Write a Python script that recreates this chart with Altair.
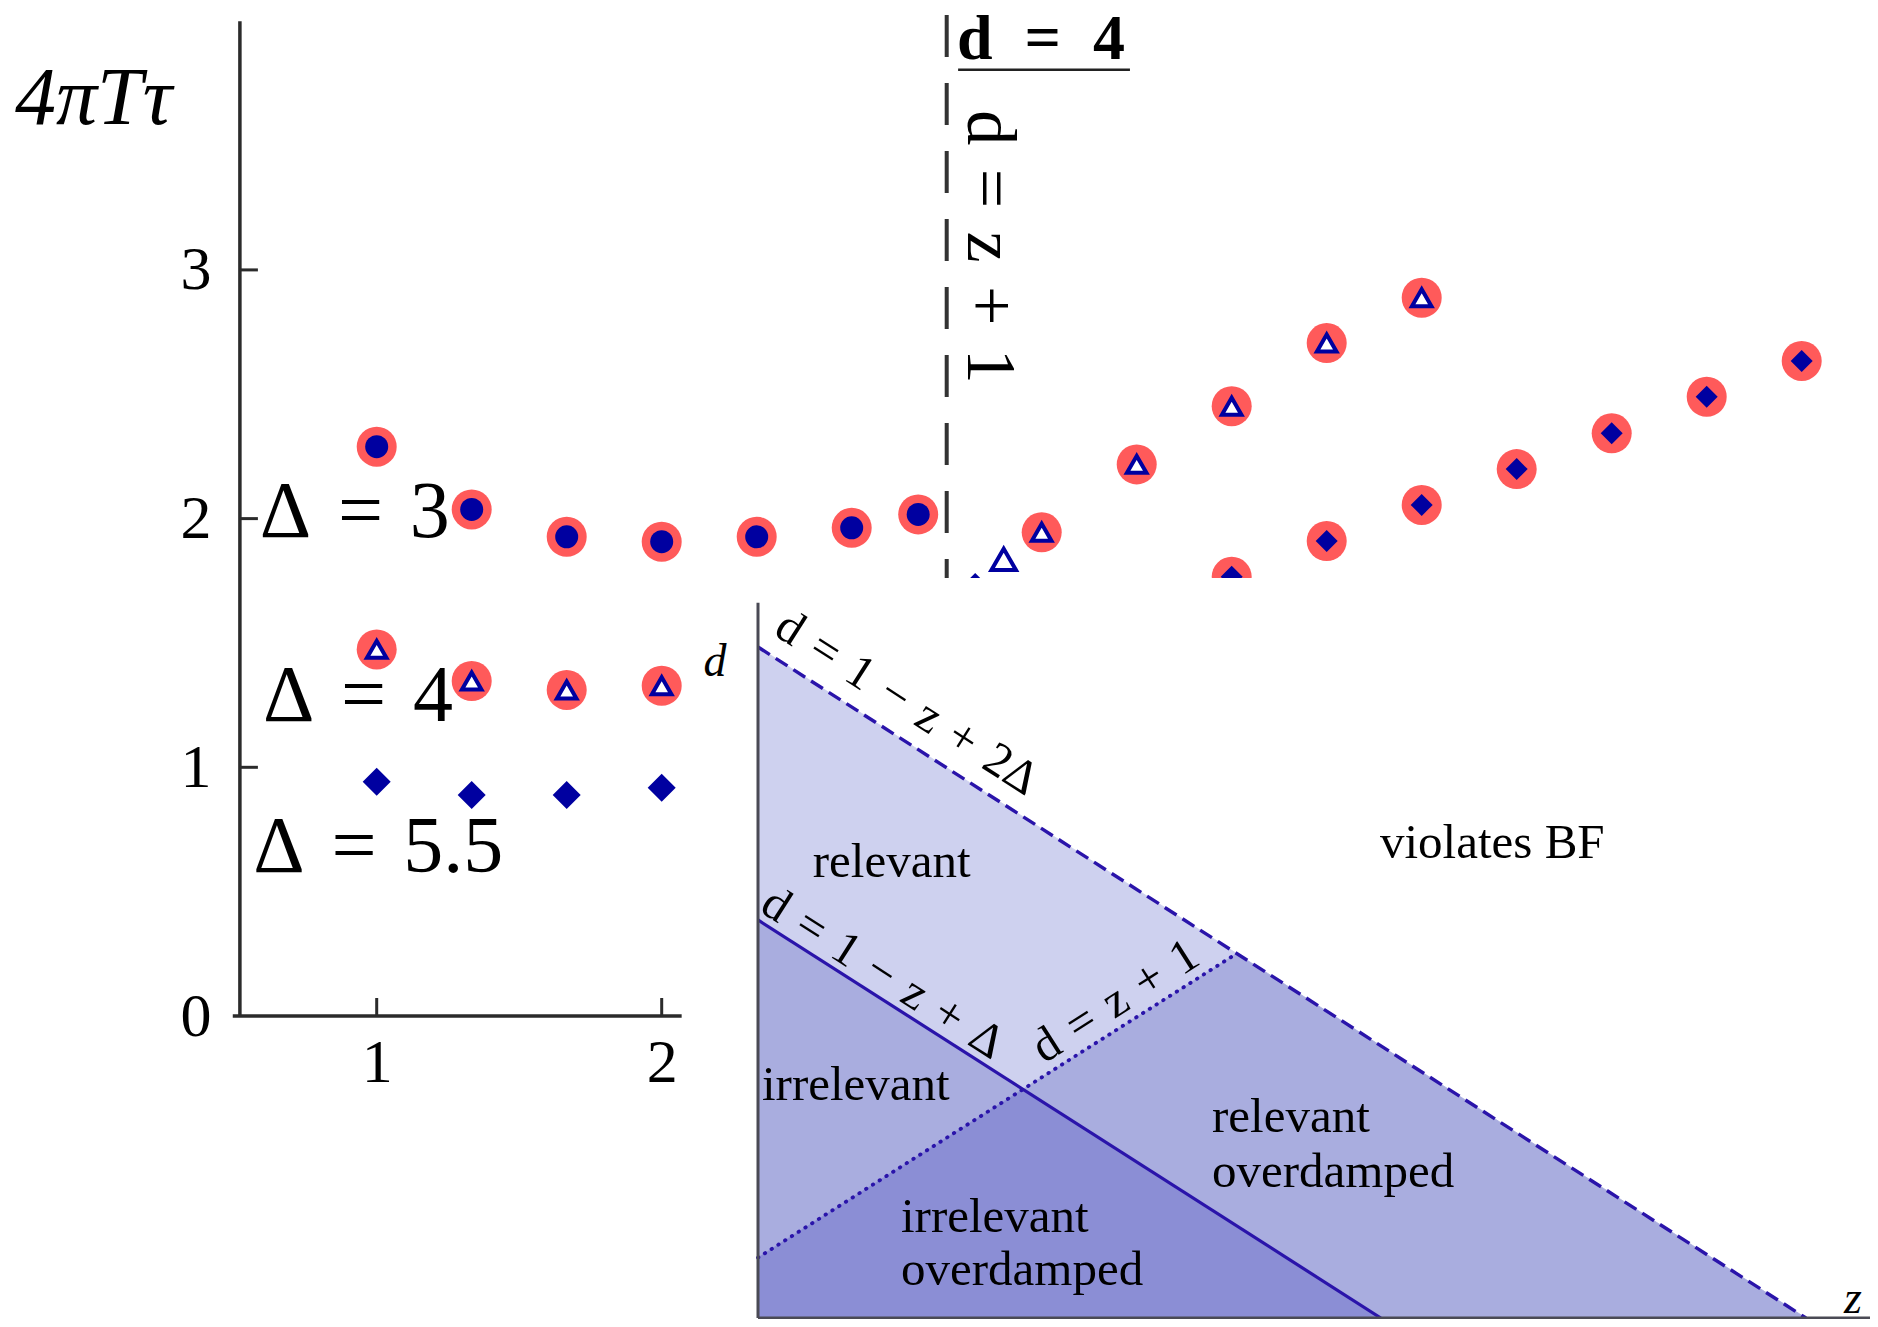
import altair as alt
import pandas as pd

FONT = "Liberation Serif"
BLUE = "#0000A0"
RING = "#FF5A5A"
AXC = "#2b2b2b"
LINEC = "#2A14AA"
LIGHT = "#CED1EF"
MED = "#A9ADDF"
DARK = "#8B8ED5"
W, H = 1862, 1311

# ---------------- main panel: z versus 4*pi*T*tau ----------------
D3_Z = [1, 4/3, 5/3, 2, 7/3, 8/3, 2.9]
D3_DELTA3 = [2.289, 2.037, 1.927, 1.907, 1.927, 1.963, 2.017]
D3_Z_SHORT = [1, 4/3, 5/3, 2]
D3_DELTA4 = [1.474, 1.347, 1.311, 1.328]
D3_DELTA55 = [0.942, 0.889, 0.889, 0.918]
D4_TRI_Z = [3.2, 10/3, 11/3, 4, 13/3, 14/3]
D4_TRI = [1.836, 1.945, 2.218, 2.452, 2.706, 2.888]
D4_TRI_RING = [False, True, True, True, True, True]
D4_DIA_Z = [3.1, 4, 13/3, 14/3, 5, 16/3, 17/3, 6]
D4_DIA = [1.731, 1.766, 1.910, 2.055, 2.199, 2.343, 2.490, 2.634]
D4_DIA_RING = [False, True, True, True, True, True, True, True]

X_TICKS = [1, 2]
Y_TICKS = [0, 1, 2, 3]
Y_TICKS_MARKED = [1, 2, 3]
Y_AXIS_AT = 0.52
X_AXIS_SPAN = [0.495, 2.07]
Y_AXIS_SPAN = [0.0, 4.0]
D_LINE_Z = 3
D_LINE_SPAN = [4.025, 0.0]

TITLE_TXT, TITLE_Z, TITLE_V = "4πTτ", -0.269, 3.587
DELTA_TXT = ["Δ\u2004=\u20043", "Δ\u2004=\u20044", "Δ\u2004=\u20045.5"]
DELTA_Z = [0.590, 0.601, 0.567]
DELTA_V = [1.926, 1.186, 0.580]
HEAD_TXT, HEAD_Z, HEAD_V = "d\u2002=\u20024", 3.036, 3.85
UNDER_Z = [3.04, 3.643]
UNDER_V = 3.805
DZ1_TXT, DZ1_Z, DZ1_V = "d\u2004=\u2004z\u2004+\u20041", 3.075, 3.092

# main scales (domains chosen so the axes sit where they do in the figure)
XS = alt.Scale(domain=[-0.29368, 6.23965], nice=False, zero=False)
YS = alt.Scale(domain=[-1.2183, 4.0531], nice=False, zero=False)
XAX = alt.Axis(values=X_TICKS, title=None, domain=False, ticks=False, tickSize=0,
               grid=False, labelFont=FONT, labelFontSize=62, labelColor="black",
               labelPadding=16, offset=-303, format="d")
YAX = alt.Axis(values=Y_TICKS, title=None, domain=False, ticks=False, tickSize=0,
               grid=False, labelFont=FONT, labelFontSize=62, labelColor="black",
               labelPadding=29, offset=-232, format="d")


def menc(chart, **kw):
    return chart.encode(x=alt.X("z:Q", scale=XS, axis=XAX),
                        y=alt.Y("v:Q", scale=YS, axis=YAX), **kw)


pts = pd.concat([
    pd.DataFrame({"z": D3_Z, "v": D3_DELTA3, "s": "circ", "ring": True}),
    pd.DataFrame({"z": D3_Z_SHORT, "v": D3_DELTA4, "s": "tri", "ring": True}),
    pd.DataFrame({"z": D3_Z_SHORT, "v": D3_DELTA55, "s": "dia", "ring": False}),
    pd.DataFrame({"z": D4_TRI_Z, "v": D4_TRI, "s": "tri", "ring": D4_TRI_RING}),
    pd.DataFrame({"z": D4_DIA_Z, "v": D4_DIA, "s": "dia4", "ring": D4_DIA_RING}),
], ignore_index=True)

layers = []
# axis lines
layers.append(menc(alt.Chart(pd.DataFrame({"z": [Y_AXIS_AT], "v": [Y_AXIS_SPAN[0]], "v2": [Y_AXIS_SPAN[1]]}))
                   .mark_rule(color=AXC, strokeWidth=3.5), y2="v2:Q"))
layers.append(menc(alt.Chart(pd.DataFrame({"z": [X_AXIS_SPAN[0]], "z2": [X_AXIS_SPAN[1]], "v": [0]}))
                   .mark_rule(color=AXC, strokeWidth=3.5), x2="z2:Q"))
# inward ticks
layers.append(menc(alt.Chart(pd.DataFrame({"z": [Y_AXIS_AT] * len(Y_TICKS_MARKED), "v": Y_TICKS_MARKED}))
                   .mark_rule(color=AXC, strokeWidth=3, x2Offset=18), x2="z:Q"))
layers.append(menc(alt.Chart(pd.DataFrame({"z": X_TICKS, "v": [0] * len(X_TICKS)}))
                   .mark_rule(color=AXC, strokeWidth=3, y2Offset=-18), y2="v:Q"))
# d = z + 1 vertical dashed line
layers.append(menc(alt.Chart(pd.DataFrame({"z": [D_LINE_Z], "v": [D_LINE_SPAN[0]], "v2": [D_LINE_SPAN[1]]}))
                   .mark_rule(color="#333333", strokeWidth=4, strokeDash=[42, 26]), y2="v2:Q"))
# red rings
layers.append(menc(alt.Chart(pts[pts["ring"]]).mark_point(shape="circle", filled=True, size=1600,
                                                           color=RING, opacity=1)))
# blue circles
layers.append(menc(alt.Chart(pts[pts["s"] == "circ"]).mark_point(shape="circle", filled=True, size=529,
                                                                  color=BLUE, opacity=1)))
# triangles
layers.append(menc(alt.Chart(pts[(pts["s"] == "tri") & pts["ring"]]).mark_point(
    shape="triangle-up", filled=True, fill="white", stroke=BLUE, strokeWidth=4, size=380, opacity=1)))
layers.append(menc(alt.Chart(pts[(pts["s"] == "tri") & ~pts["ring"]]).mark_point(
    shape="triangle-up", filled=True, fill="white", stroke=BLUE, strokeWidth=4, size=600, opacity=1)))
# diamonds
layers.append(menc(alt.Chart(pts[pts["s"] == "dia"]).mark_point(shape="diamond", filled=True, size=784,
                                                                 color=BLUE, opacity=1)))
layers.append(menc(alt.Chart(pts[(pts["s"] == "dia4") & pts["ring"]]).mark_point(
    shape="diamond", filled=True, size=484, color=BLUE, opacity=1)))
layers.append(menc(alt.Chart(pts[(pts["s"] == "dia4") & ~pts["ring"]]).mark_point(
    shape="diamond", filled=True, size=625, color=BLUE, opacity=1)))
# texts
layers.append(menc(alt.Chart(pd.DataFrame({"z": [TITLE_Z], "v": [TITLE_V], "t": [TITLE_TXT]}))
                   .mark_text(font=FONT, fontSize=82, fontStyle="italic", align="left",
                              baseline="alphabetic", color="black"), text="t:N"))
layers.append(menc(alt.Chart(pd.DataFrame({"z": DELTA_Z, "v": DELTA_V, "t": DELTA_TXT}))
                   .mark_text(font=FONT, fontSize=80, align="left", baseline="alphabetic",
                              color="black"), text="t:N"))
layers.append(menc(alt.Chart(pd.DataFrame({"z": [HEAD_Z], "v": [HEAD_V], "t": [HEAD_TXT]}))
                   .mark_text(font=FONT, fontSize=64, fontWeight="bold", align="left",
                              baseline="alphabetic", color="black"), text="t:N"))
layers.append(menc(alt.Chart(pd.DataFrame({"z": [UNDER_Z[0]], "z2": [UNDER_Z[1]], "v": [UNDER_V]}))
                   .mark_rule(color="#222222", strokeWidth=2.5), x2="z2:Q"))
layers.append(menc(alt.Chart(pd.DataFrame({"z": [DZ1_Z], "v": [DZ1_V], "t": [DZ1_TXT]}))
                   .mark_text(font=FONT, fontSize=70, angle=90, align="center",
                              baseline="alphabetic", color="black"), text="t:N"))

main = alt.layer(*layers)

# ---------------- inset: phase diagram in (z, d) ----------------
PANEL_Z = [-0.70, 11.12]
PANEL_D = [-0.0158, 11.69]
LIGHT_Z, LIGHT_HI, LIGHT_LO = [0, 2.65, 4.787], [10.6, 7.92, 5.758], [6.288, 3.613, 5.758]
IRR_Z, IRR_HI, IRR_LO = [0, 2.65], [6.288, 3.613], [0.954, 3.613]
DARK_Z, DARK_HI, DARK_LO = [0, 2.65, 6.228], [0.954, 3.613, 0], [0, 0, 0]
RELOD_Z, RELOD_HI, RELOD_LO = [2.65, 4.787, 6.228, 10.48], [3.613, 5.758, 4.300, 0], [3.613, 1.455, 0, 0]
DASHED_Z, DASHED_D = [0, 10.48], [10.6, 0]
SOLID_Z, SOLID_D = [0, 6.228], [6.288, 0]
DOTTED_Z, DOTTED_D = [0, 4.787], [0.954, 5.758]
VAXIS_D = [0, 11.3]
HAXIS_Z = [0, 11.12]

REGION_TXT = ["relevant", "irrelevant", "irrelevant", "overdamped", "relevant", "overdamped", "violates BF"]
REGION_Z = [0.547, 0.04, 1.43, 1.43, 4.54, 4.54, 6.22]
REGION_D = [6.97, 3.45, 1.36, 0.52, 2.94, 2.07, 7.27]
AXLAB_TXT, AXLAB_Z, AXLAB_D = ["d", "z"], [-0.43, 10.95], [10.36, 0.3]
LINE_TXT = ["d\u2004=\u20041\u2004\u2212\u2004z\u2004+\u20042Δ",
            "d\u2004=\u20041\u2004\u2212\u2004z\u2004+\u2004Δ",
            "d\u2004=\u2004z\u2004+\u20041"]
LINE_TZ = [1.487, 1.2475, 3.576]
LINE_TD = [9.71, 5.44, 4.995]
LINE_ANGLE = [32.6, 32.6, 327.4]

XIS = alt.Scale(domain=[-7.5, 11.12], nice=False, zero=False)
YIS = alt.Scale(domain=[-0.0158, 20.695], nice=False, zero=False)


def ienc(chart, **kw):
    return chart.encode(x=alt.X("zi:Q", scale=XIS, axis=None),
                        y=alt.Y("di:Q", scale=YIS, axis=None), **kw)


def area(zs, hi, lo, col):
    return ienc(alt.Chart(pd.DataFrame({"zi": zs, "di": hi, "lo": lo}))
                .mark_area(color=col, opacity=1, stroke=col, strokeWidth=0.8), y2="lo:Q")


ilayers = [
    ienc(alt.Chart(pd.DataFrame({"zi": [PANEL_Z[0]], "z2": [PANEL_Z[1]], "di": [PANEL_D[0]], "d2": [PANEL_D[1]]}))
         .mark_rect(color="white", opacity=1), x2="z2:Q", y2="d2:Q"),
    area(LIGHT_Z, LIGHT_HI, LIGHT_LO, LIGHT),
    area(IRR_Z, IRR_HI, IRR_LO, MED),
    area(RELOD_Z, RELOD_HI, RELOD_LO, MED),
    area(DARK_Z, DARK_HI, DARK_LO, DARK),
    ienc(alt.Chart(pd.DataFrame({"zi": DASHED_Z, "di": DASHED_D}))
         .mark_line(color=LINEC, strokeWidth=3.4, strokeDash=[14, 7])),
    ienc(alt.Chart(pd.DataFrame({"zi": SOLID_Z, "di": SOLID_D}))
         .mark_line(color=LINEC, strokeWidth=3.2)),
    ienc(alt.Chart(pd.DataFrame({"zi": DOTTED_Z, "di": DOTTED_D}))
         .mark_line(color=LINEC, strokeWidth=3.8, strokeDash=[0.5, 7.5], strokeCap="round")),
    ienc(alt.Chart(pd.DataFrame({"zi": [0], "di": [VAXIS_D[0]], "d2": [VAXIS_D[1]]}))
         .mark_rule(color="#4a4a55", strokeWidth=3), y2="d2:Q"),
    ienc(alt.Chart(pd.DataFrame({"zi": [HAXIS_Z[0]], "z2": [HAXIS_Z[1]], "di": [0]}))
         .mark_rule(color="#4a4a55", strokeWidth=3), x2="z2:Q"),
    ienc(alt.Chart(pd.DataFrame({"zi": REGION_Z, "di": REGION_D, "t": REGION_TXT}))
         .mark_text(font=FONT, fontSize=49, align="left", baseline="alphabetic", color="black"),
         text="t:N"),
    ienc(alt.Chart(pd.DataFrame({"zi": AXLAB_Z, "di": AXLAB_D, "t": AXLAB_TXT}))
         .mark_text(font=FONT, fontSize=46, fontStyle="italic", align="center", baseline="middle",
                    color="black"), text="t:N"),
]
for t, zz, dd, ang in zip(LINE_TXT, LINE_TZ, LINE_TD, LINE_ANGLE):
    ilayers.append(ienc(alt.Chart(pd.DataFrame({"zi": [zz], "di": [dd], "t": [t]}))
                        .mark_text(font=FONT, fontSize=48, angle=ang, align="center",
                                   baseline="middle", color="black"), text="t:N"))

inset = alt.layer(*ilayers)

chart = (alt.layer(main, inset)
         .resolve_scale(x="independent", y="independent")
         .properties(width=W, height=H, autosize=alt.AutoSizeParams(type="none"),
                     padding=0, background="white")
         .configure_view(stroke=None))

chart.save("out.html", embed_options={"renderer": "svg", "actions": False})
